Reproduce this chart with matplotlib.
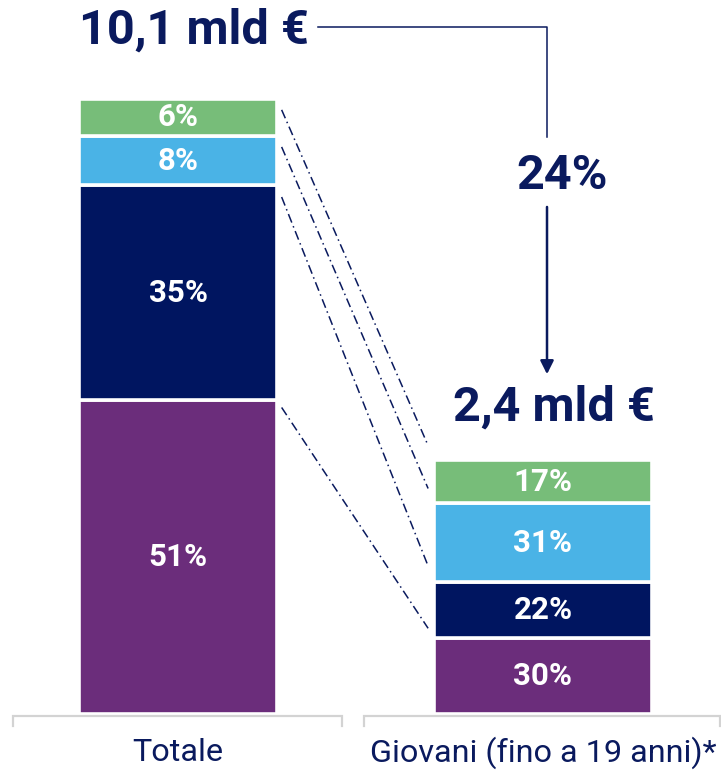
import matplotlib.pyplot as plt
import numpy as np

plt.rcParams['font.family'] = ['Roboto', 'DejaVu Sans']

# data
groups = ['Totale', 'Giovani (fino a 19 anni)*']
segments = ['s1', 's2', 's3', 's4']  # bottom -> top
shares = {
    'Totale': [51, 35, 8, 6],
    'Giovani (fino a 19 anni)*': [30, 22, 31, 17],
}
totals = ['10,1 mld €', '2,4 mld €']
ratio_label = '24%'
bar_scale = [1.0, 0.413]  # drawn height of each bar
bar_width = [0.542, 0.595]
colors = ['#6B2D7B', '#001560', '#4AB3E6', '#77BD79']
navy = '#0A1A5E'

fig = plt.figure(figsize=(7.21, 7.75), dpi=100)
ax = fig.add_axes([0, 0, 1, 1])
ax.set_xlim(-0.4877, 1.4877)
ax.set_ylim(-9.92, 116.1)
ax.axis('off')

xs = np.arange(len(groups))
tops = []  # boundaries of each bar, bottom -> top
for i, g in enumerate(groups):
    vals = np.array(shares[g]) * bar_scale[i]
    bottoms = np.concatenate([[0], np.cumsum(vals)[:-1]])
    ax.bar(xs[i], vals, bottom=bottoms, width=bar_width[i], color=colors,
           edgecolor='white', linewidth=2.6)
    for v, b, p in zip(vals, bottoms, shares[g]):
        ax.text(xs[i], b + v / 2, f'{p}%', ha='center', va='center',
                color='white', fontsize=22.5, fontweight='bold')
    tops.append(np.concatenate([[0], np.cumsum(vals)]))

# dash-dot connectors between segment boundaries
xl = xs[0] + bar_width[0] / 2
xr = xs[1] - bar_width[1] / 2
for k in range(1, len(segments) + 1):
    y0, y1 = tops[0][k], tops[1][k]
    t = np.array([0.03, 0.96])
    ax.plot(xl + t * (xr - xl), y0 + t * (y1 - y0), color=navy, lw=1.1,
            linestyle=(0, (6, 2.5, 1, 2.5)))

# totals and ratio
ax.text(0.044, 111.2, totals[0], ha='center', va='center', color=navy,
        fontsize=35, fontweight='bold')
ax.text(1.03, 49.8, totals[1], ha='center', va='center', color=navy,
        fontsize=35, fontweight='bold')
ax.text(1.052, 87.5, ratio_label, ha='center', va='center', color=navy,
        fontsize=35, fontweight='bold')
ax.plot([0.384, 1.011, 1.011], [111.7, 111.7, 93.8], color=navy, lw=1.1)
ax.annotate('', xy=(1.011, 54.8), xytext=(1.011, 82.9),
            arrowprops=dict(arrowstyle='-|>,head_width=0.4,head_length=0.8',
                            color=navy, lw=1.8))

# category brackets and labels
spans = [(-0.452, 0.449), (0.51, 1.485)]
for i, (a, b) in enumerate(spans):
    ax.plot([a, a, b, b], [-1.95, -0.33, -0.33, -1.95], color='#D3D3D3',
            lw=1.6, solid_joinstyle='miter')
    ax.text(xs[i], -6.3, groups[i], ha='center', va='center', color=navy,
            fontsize=23.3)

fig.savefig('out.png', dpi=100)
